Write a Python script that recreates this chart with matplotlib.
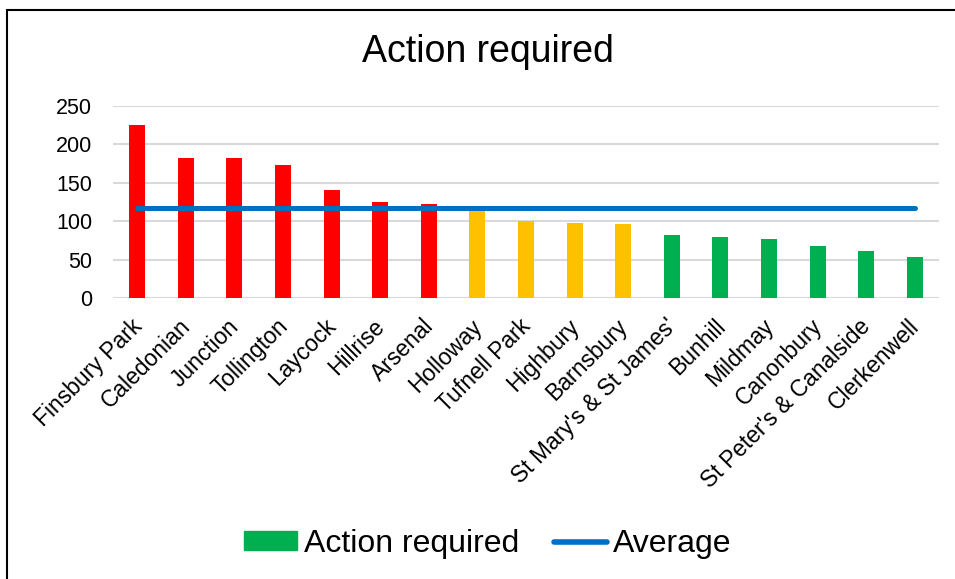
import matplotlib
matplotlib.use("Agg")
import numpy as np
from matplotlib import pyplot as plt
from matplotlib.patches import Patch, Rectangle
from matplotlib.lines import Line2D
from matplotlib.transforms import ScaledTranslation

plt.rcParams["font.family"] = ["Liberation Sans", "DejaVu Sans"]

# wards, sorted by number needing action
wards = [
    "Finsbury Park", "Caledonian", "Junction", "Tollington", "Laycock",
    "Hillrise", "Arsenal", "Holloway", "Tufnell Park", "Highbury",
    "Barnsbury", "St Mary's & St James'", "Bunhill", "Mildmay",
    "Canonbury", "St Peter's & Canalside", "Clerkenwell",
]
action_required = [225, 182, 182, 173, 141, 125, 123, 116, 100, 98,
                   96, 82, 79, 77, 68, 61, 54]
# rag status of each ward (r = red, a = amber, g = green)
status = ["r", "r", "r", "r", "r", "r", "r", "a", "a", "a",
          "a", "g", "g", "g", "g", "g", "g"]
average = 116.6
y_ticks = [0, 50, 100, 150, 200, 250]

status_colours = {"r": "#FF0000", "a": "#FFC000", "g": "#00B050"}
line_colour = "#0070C0"

fig = plt.figure(figsize=(9.55, 5.79), dpi=100)
ax = fig.add_axes([113 / 955, 1 - 298 / 579, (939 - 113) / 955, (298 - 106) / 579])

x = np.arange(len(wards))
ax.bar(x, action_required, width=0.33,
       color=[status_colours[s] for s in status], zorder=2)
ax.plot([x[0], x[-1]], [average, average], color=line_colour, lw=3.6,
        solid_capstyle="round", zorder=3)

ax.set_xlim(-0.5, len(wards) - 0.5)
ax.set_ylim(0, 250)
ax.set_yticks(y_ticks)
ax.set_yticklabels([str(t) for t in y_ticks], fontsize=15.5)
ax.yaxis.grid(True, color="#D9D9D9", lw=1.5, zorder=0)
ax.tick_params(axis="y", length=0, pad=15)
ax.tick_params(axis="x", length=0, pad=12)
for s in ax.spines.values():
    s.set_visible(False)

ax.set_xticks(x)
ax.set_xticklabels(wards, rotation=45, ha="right", va="top",
                   rotation_mode="anchor", fontsize=16.5)
shift = ScaledTranslation(-0.07, 0, fig.dpi_scale_trans)
for lab in ax.get_xticklabels():
    lab.set_transform(lab.get_transform() + shift)

fig.text(488 / 955, 1 - 52 / 579, "Action required", ha="center",
         va="center", fontsize=27)

handles = [Patch(color=status_colours["g"]),
           Line2D([], [], color=line_colour, lw=4, solid_capstyle="round")]
fig.legend(handles, ["Action required", "Average"], loc="center",
           bbox_to_anchor=(488 / 955, 1 - 544 / 579), ncol=2, frameon=False,
           fontsize=23, handlelength=1.65, handleheight=0.55,
           handletextpad=0.2, columnspacing=1.1)

# chart border (only top and left edges are inside the image)
fig.patches.append(Rectangle((7 / 955, -0.1), 1.2, 1 - 10 / 579 + 0.1,
                             transform=fig.transFigure, fill=False,
                             edgecolor="black", lw=1.5))

fig.savefig("out.png", dpi=100)
